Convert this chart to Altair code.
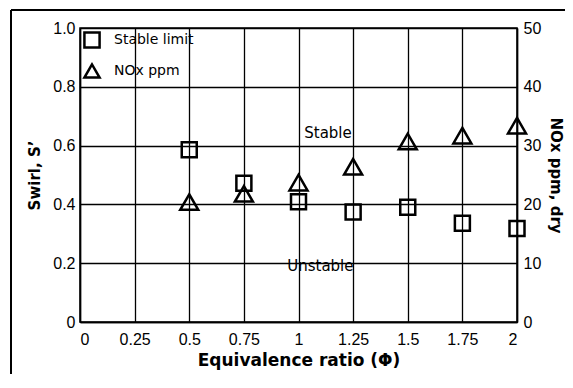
import altair as alt
import pandas as pd

phi = [0.5, 0.75, 1.0, 1.25, 1.5, 1.75, 2.0]
swirl = [0.586, 0.472, 0.409, 0.374, 0.39, 0.336, 0.318]
nox = [20.4, 21.8, 23.7, 26.4, 30.7, 31.7, 33.4]
series = ["Stable limit", "NOx ppm"]
x_ticks = [0, 0.25, 0.5, 0.75, 1, 1.25, 1.5, 1.75, 2]
y_ticks = [0, 0.2, 0.4, 0.6, 0.8, 1.0]
y2_ticks = [0, 10, 20, 30, 40, 50]
ann_text = ["Stable", "Unstable"]
ann_x = [1.135, 1.10]
ann_y = [0.644, 0.19]

df_s = pd.DataFrame({"phi": phi, "val": swirl, "series": series[0]})
df_n = pd.DataFrame({"phi": phi, "val": nox, "series": series[1]})
df_a = pd.DataFrame({"phi": ann_x, "val": ann_y, "label": ann_text})

FONT = "DejaVu Sans"
TICKFONT = "Liberation Sans"

xscale = alt.Scale(domain=[0, 2], nice=False, zero=False)
shape_scale = alt.Scale(domain=series, range=["square", "triangle-up"])

common_axis = dict(labelFont=TICKFONT, labelFontSize=16, labelColor="black",
                   titleFont=FONT, titleFontWeight="bold", titleColor="black",
                   domainColor="black", domainWidth=1.5,
                   gridColor="black", gridWidth=1.3, gridOpacity=1, ticks=False)

x_enc = alt.X("phi:Q", scale=xscale,
              axis=alt.Axis(values=x_ticks, title="Equivalence ratio (Φ)",
                            labelExpr="datum.value == 0 ? '0' : format(datum.value, '')",
                            grid=True, labelPadding=9,
                            titleFontSize=17, titlePadding=5, **common_axis))

legend = alt.Legend(title=None, orient="top-left", offset=3, padding=0,
                    symbolStrokeColor="black", symbolFillColor="transparent",
                    symbolStrokeWidth=2.5, symbolSize=230, labelFontSize=14,
                    labelFont=FONT, labelColor="black", rowPadding=6,
                    labelOffset=13, symbolOffset=0)

squares = alt.Chart(df_s).mark_point(filled=False, color="black", strokeWidth=2.5, size=225, opacity=1).encode(
    x=x_enc,
    y=alt.Y("val:Q", scale=alt.Scale(domain=[0, 1], nice=False),
            axis=alt.Axis(values=y_ticks, title="Swirl, S’", orient="left",
                          labelExpr="datum.value == 0 ? '0' : format(datum.value, '.1f')",
                          grid=True, labelPadding=5,
                          titleFontSize=15, titlePadding=10, **common_axis)),
    shape=alt.Shape("series:N", scale=shape_scale, legend=legend),
)

annots = alt.Chart(df_a).mark_text(font=FONT, fontSize=15, color="black").encode(
    x=alt.X("phi:Q", scale=xscale),
    y=alt.Y("val:Q", scale=alt.Scale(domain=[0, 1], nice=False)),
    text="label:N",
)

tris = alt.Chart(df_n).mark_point(filled=False, color="black", strokeWidth=2.5, size=324, opacity=1).encode(
    x=alt.X("phi:Q", scale=xscale),
    y=alt.Y("val:Q", scale=alt.Scale(domain=[0, 50], nice=False),
            axis=alt.Axis(values=y2_ticks, title="NOx ppm, dry", orient="right",
                          grid=False, labelPadding=6,
                          titleFontSize=15, titleAngle=90, titlePadding=7, **common_axis)),
    shape=alt.Shape("series:N", scale=shape_scale, legend=legend),
)

border_top = alt.Chart(df_a).mark_rule(color="black", strokeWidth=2).encode(
    x=alt.value(-69), x2=alt.value(485), y=alt.value(-18))
border_left = alt.Chart(df_a).mark_rule(color="black", strokeWidth=2).encode(
    x=alt.value(-69), y=alt.value(-18), y2=alt.value(346))

left = alt.layer(squares, annots, border_top, border_left)
chart = alt.layer(left, tris).resolve_scale(y="independent").properties(
    width=437, height=294,
    background="white",
    autosize=alt.AutoSizeParams(type="none"),
    padding={"left": 72, "top": 20, "right": 48, "bottom": 52},
).configure_view(stroke="black", strokeWidth=1.5)

chart.save("out.html", embed_options={"renderer": "svg", "actions": False})
